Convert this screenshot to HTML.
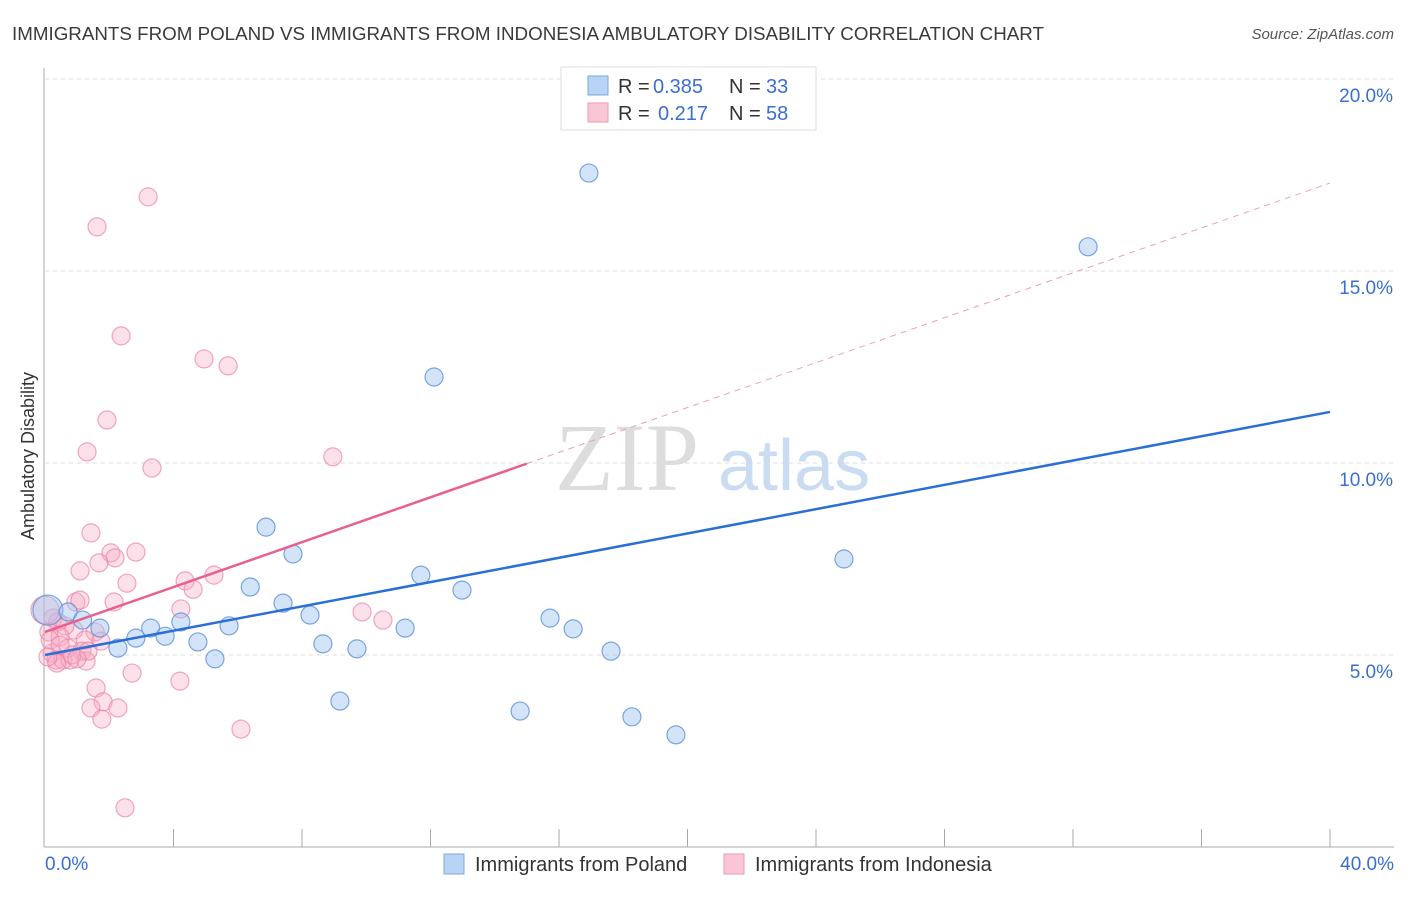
<!DOCTYPE html>
<html><head><meta charset="utf-8"><style>
body{margin:0;background:#fff;font-family:"Liberation Sans",sans-serif;}
</style></head><body>
<svg id="chart" width="1406" height="892" xmlns="http://www.w3.org/2000/svg" style="font-family:'Liberation Sans',sans-serif">
<text x="12" y="40" font-size="18" fill="#3a3a3a" textLength="1032" lengthAdjust="spacingAndGlyphs">IMMIGRANTS FROM POLAND VS IMMIGRANTS FROM INDONESIA AMBULATORY DISABILITY CORRELATION CHART</text>
<text x="1394" y="39" font-size="15" fill="#555" font-style="italic" text-anchor="end">Source: ZipAtlas.com</text>
<text transform="translate(34,456) rotate(-90)" font-size="18" fill="#333" text-anchor="middle">Ambulatory Disability</text>
<g id="grid"></g>
<text x="555" y="490" font-size="96" fill="#ddd" font-family="Liberation Serif">ZIP</text>
<text x="718" y="490" font-size="72" fill="#c9dcf2">atlas</text>
<g id="marks"></g>
<g>
<rect x="561" y="67" width="255" height="63" fill="#fff" stroke="#ddd"/>
<rect x="588" y="76" width="20" height="19" fill="#b8d4f5" stroke="#7aa8e0"/>
<rect x="588" y="103" width="20" height="19" fill="#f9c6d6" stroke="#ee99b4"/>
<text x="618" y="93" font-size="20" fill="#333">R =</text>
<text x="653" y="93" font-size="20" fill="#3a6fd0">0.385</text>
<text x="729" y="93" font-size="20" fill="#333">N =</text>
<text x="766" y="93" font-size="20" fill="#3a6fd0">33</text>
<text x="618" y="120" font-size="20" fill="#333">R =</text>
<text x="658" y="120" font-size="20" fill="#3a6fd0">0.217</text>
<text x="729" y="120" font-size="20" fill="#333">N =</text>
<text x="766" y="120" font-size="20" fill="#3a6fd0">58</text>
</g>
<g>
<rect x="444" y="854" width="20" height="20" fill="#b8d4f5" stroke="#7aa8e0"/>
<text x="475" y="871" font-size="20" fill="#333">Immigrants from Poland</text>
<rect x="724" y="854" width="20" height="20" fill="#f9c6d6" stroke="#ee99b4"/>
<text x="755" y="871" font-size="20" fill="#333">Immigrants from Indonesia</text>
</g>
</svg>
<script>
const yTicks=[5,10,15,20];
const yTickLabels=["5.0%","10.0%","15.0%","20.0%"];
const xTickLabels=["0.0%","40.0%"];
const polandX=[0.09,0.72,1.17,1.71,2.27,2.83,3.29,3.74,4.23,4.76,5.29,5.73,6.39,6.88,7.41,7.72,8.25,8.65,9.18,9.71,11.21,11.70,12.11,12.98,14.79,15.72,16.44,16.93,17.62,18.27,19.64,24.87,32.47];
const polandY=[6.17,6.12,5.91,5.70,5.18,5.44,5.70,5.49,5.86,5.34,4.90,5.76,6.77,8.33,6.35,7.63,6.04,5.29,3.80,5.16,5.70,7.08,12.24,6.69,3.54,5.96,5.68,17.55,5.10,3.39,2.92,7.50,15.63];
const indoX=[3.21,1.62,2.37,4.95,5.70,1.93,1.31,3.33,8.96,1.43,2.83,2.05,2.18,1.68,1.09,5.26,2.55,4.36,0.96,1.09,4.61,2.15,4.23,9.87,10.52,1.56,0.90,0.25,0.40,0.62,0.12,0.47,1.25,1.74,0.72,1.15,0.22,0.34,0.56,0.78,1.28,0.37,1.59,2.71,4.20,1.81,1.43,2.27,1.77,6.10,2.49,0.16,0.0,0.84,1.34,0.47,0.99,0.09];
const indoY=[16.93,16.15,13.31,12.71,12.53,11.12,10.29,9.87,10.16,8.18,7.68,7.66,7.53,7.40,7.19,7.08,6.87,6.93,6.38,6.43,6.71,6.38,6.20,6.12,5.91,5.60,5.65,5.96,5.86,5.76,5.60,5.47,5.39,5.36,5.18,5.10,5.05,4.87,4.87,4.87,4.84,4.79,4.14,4.53,4.32,3.78,3.62,3.62,3.33,3.07,1.02,5.39,6.17,5.00,5.10,5.26,4.90,4.95];
const blueTrend=[5.0,11.33];
const pinkTrend=[5.6,17.29];
const X=v=>45+v*32.125, Y=v=>847-v*38.4;
const NS="http://www.w3.org/2000/svg";
function mk(tag,attrs,parent){const e=document.createElementNS(NS,tag);for(const k in attrs)e.setAttribute(k,attrs[k]);parent.appendChild(e);return e;}
const svg=document.getElementById('chart'),grid=document.getElementById('grid'),marks=document.getElementById('marks');
yTicks.forEach((t,i)=>{
 const l=mk('line',{x1:45,x2:1394,y1:Y(t),y2:Y(t),stroke:'#ddd','stroke-dasharray':'4,4'},grid);
 
 
 const tx=mk('text',{x:1393,y:Y(t)+23,'font-size':19,fill:'#3a6fd0','text-anchor':'end'},grid);
 tx.textContent=yTickLabels[i];
 
 
});
const ax=mk('line',{x1:44,x2:44,y1:68,y2:847,stroke:'#aaa'},grid);


const bx=mk('line',{x1:44,x2:1394,y1:847,y2:847,stroke:'#aaa'},grid);


for(let i=1;i<=10;i++){const t=mk('line',{x1:X(i*4),x2:X(i*4),y1:829,y2:847,stroke:'#aaa'},grid);
 
 }
[[0,'start',45],[40,'end',1394]].forEach((a,i)=>{const t=mk('text',{x:a[2],y:870,'font-size':19,fill:'#3a6fd0','text-anchor':a[1]},grid);t.textContent=xTickLabels[i];
 
 });
indoX.forEach((v,i)=>{const c=mk('circle',{cx:X(v),cy:Y(indoY[i]),r:i==52?14:9,fill:'rgba(246,170,195,0.35)',stroke:'rgba(236,130,165,0.7)','stroke-width':1.2},marks);
 
 });
polandX.forEach((v,i)=>{const c=mk('circle',{cx:X(v),cy:Y(polandY[i]),r:i==0?15:9,fill:'rgba(160,196,240,0.45)',stroke:'rgba(90,145,215,0.8)','stroke-width':1.2},marks);
 
 });
const pt=x=>pinkTrend[0]+(pinkTrend[1]-pinkTrend[0])*x/40;
const pd=mk('line',{x1:X(15),y1:Y(pt(15)),x2:X(40),y2:Y(pt(40)),stroke:'#eaa0b8','stroke-dasharray':'6,5','stroke-width':1},marks);


const ps=mk('line',{x1:X(0),y1:Y(pt(0)),x2:X(15),y2:Y(pt(15)),stroke:'#e8608c','stroke-width':2.5},marks);


const bl=mk('line',{x1:X(0),y1:Y(blueTrend[0]),x2:X(40),y2:Y(blueTrend[1]),stroke:'#2a6fd6','stroke-width':2.5},marks);


</script>
</body></html>
